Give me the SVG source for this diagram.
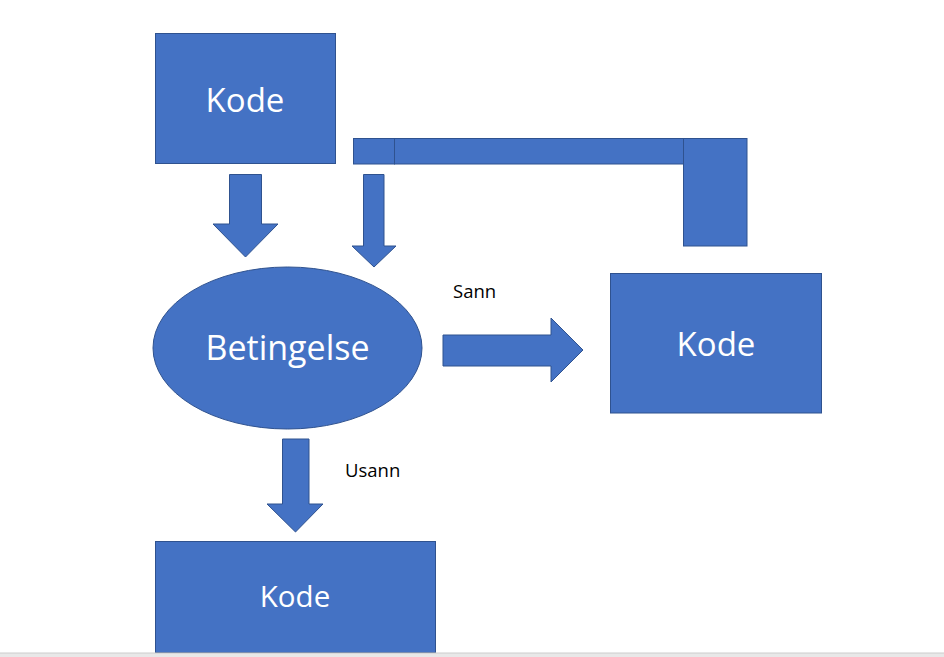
<svg xmlns="http://www.w3.org/2000/svg" width="944" height="657" viewBox="0 0 944 657">
<style>
.s{fill:#4472C4;stroke:#2F528F;stroke-width:1}
.t{fill:#FFFFFF;font-family:"Open Sans","Liberation Sans",sans-serif;text-anchor:middle}
.l{fill:#000000;font-family:"Open Sans","Liberation Sans",sans-serif;font-size:18.5px}
</style>
<rect width="944" height="657" fill="#FFFFFF"/>
<g id="kode-top">
<rect class="s" x="155.5" y="33.5" width="180" height="130"/>
<text class="t" x="245" y="112" font-size="33">Kode</text>
</g>
<g id="loop-bar">
<rect class="s" x="353.5" y="138.5" width="41" height="25.5"/>
<rect class="s" x="394.5" y="138.5" width="289" height="25.5"/>
<rect class="s" x="683.5" y="138.5" width="63.5" height="107.5"/>
</g>
<g id="betingelse">
<ellipse class="s" cx="287.5" cy="348" rx="134.5" ry="81"/>
<text class="t" x="287.5" y="360" font-size="34">Betingelse</text>
</g>
<g id="kode-right">
<rect class="s" x="610.5" y="273.5" width="211" height="139.5"/>
<text class="t" x="716" y="356" font-size="33">Kode</text>
</g>
<g id="kode-bottom">
<rect class="s" x="155.5" y="541.5" width="280" height="111"/>
<text class="t" x="295" y="607" font-size="29.5">Kode</text>
</g>
<g id="connectors">
<polygon class="s" points="229.5,174.5 261.5,174.5 261.5,224 278,224 245.5,257 213,224 229.5,224"/>
<polygon class="s" points="363.5,174.5 384,174.5 384,246 396,246 374,267 352,246 363.5,246"/>
<polygon class="s" points="443,335 551,335 551,318 583,350 551,382 551,366 443,366"/>
<polygon class="s" points="282.5,439 309,439 309,504 323,504 295.5,532 267,504 282.5,504"/>
<text class="l" x="453" y="298">Sann</text>
<text class="l" x="345" y="477">Usann</text>
</g>
<rect x="0" y="653" width="944" height="4" fill="#E8E8E8"/>
<line x1="0" y1="653" x2="944" y2="653" stroke="#CCCCCC" stroke-width="1"/>
</svg>
